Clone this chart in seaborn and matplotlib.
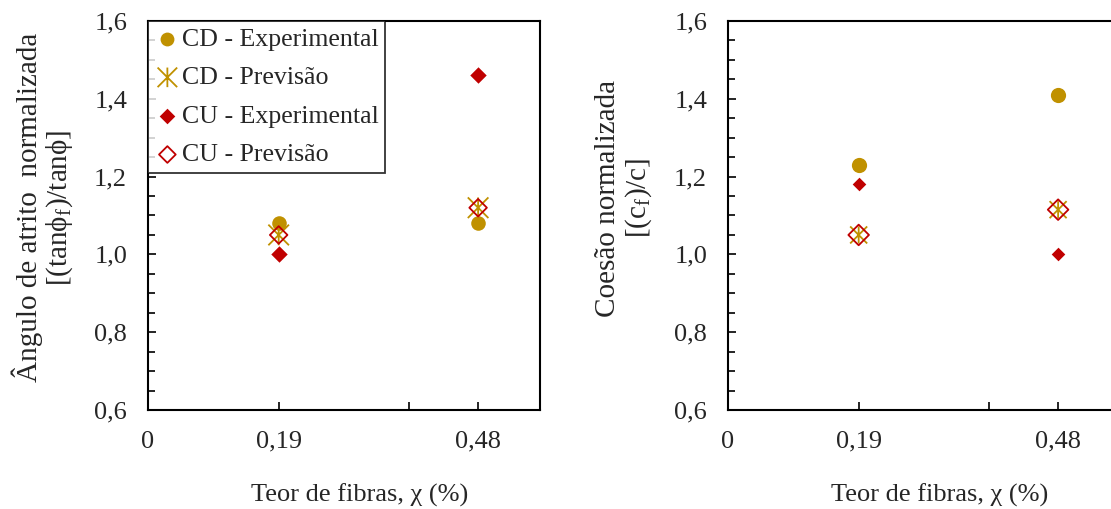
import numpy as np
import pandas as pd
import matplotlib
matplotlib.use("Agg")
import matplotlib.pyplot as plt
import seaborn as sns
from matplotlib.path import Path
from matplotlib.ticker import MultipleLocator

# fibre content (%) and normalised results
fibre = [0.19, 0.48]

phi_cd_exp = [1.08, 1.08]
phi_cd_prev = [1.05, 1.12]
phi_cu_exp = [1.00, 1.46]
phi_cu_prev = [1.05, 1.12]

coh_cd_exp = [1.23, 1.41]
coh_cd_prev = [1.05, 1.115]
coh_cu_exp = [1.18, 1.00]
coh_cu_prev = [1.05, 1.115]

x_ticks = [0, 0.19, 0.38, 0.48]
x_tick_labels = ["0", "0,19", "", "0,48"]
y_ticks = [0.6, 0.8, 1.0, 1.2, 1.4, 1.6]
y_tick_labels = ["0,6", "0,8", "1,0", "1,2", "1,4", "1,6"]
series_names = ["CD - Experimental", "CD - Previsão", "CU - Experimental", "CU - Previsão"]

gold = "#C09100"
red = "#C00000"

sns.set_style("white")
plt.rcParams["font.family"] = ["Liberation Serif", "DejaVu Serif"]
plt.rcParams["mathtext.fontset"] = "custom"
plt.rcParams["mathtext.rm"] = "Liberation Serif"
FS = 19
FS_Y = 21

# Excel-style star: X plus a vertical bar
star = Path([(0, -1), (0, 1), (-1, -1), (1, 1), (-1, 1), (1, -1)],
            [Path.MOVETO, Path.LINETO, Path.MOVETO, Path.LINETO, Path.MOVETO, Path.LINETO])

fig = plt.figure(figsize=(11.11, 5.09), dpi=100)
ax1 = fig.add_axes([148 / 1111, 1 - 410 / 509, 392 / 1111, 389 / 509])
ax2 = fig.add_axes([728 / 1111, 1 - 410 / 509, 392 / 1111, 389 / 509])


def draw(ax, cd_exp, cd_prev, cu_exp, cu_prev, sizes):
    df = pd.DataFrame({"x": fibre, "cd_exp": cd_exp, "cd_prev": cd_prev,
                       "cu_exp": cu_exp, "cu_prev": cu_prev})
    sns.scatterplot(data=df, x="x", y="cd_exp", ax=ax, marker="o", s=sizes[0],
                    color=gold, edgecolor=gold, linewidth=0, label=series_names[0], zorder=3)
    sns.scatterplot(data=df, x="x", y="cd_prev", ax=ax, marker=star, s=sizes[1],
                    color=gold, facecolor="none", edgecolor=gold, linewidth=1.3,
                    label=series_names[1], zorder=4)
    sns.scatterplot(data=df, x="x", y="cu_exp", ax=ax, marker="D", s=sizes[2],
                    color=red, edgecolor=red, linewidth=0, label=series_names[2], zorder=3)
    sns.scatterplot(data=df, x="x", y="cu_prev", ax=ax, marker="D", s=sizes[3],
                    color=red, facecolor="none", edgecolor=red, linewidth=1.3,
                    label=series_names[3], zorder=5)

    ax.set_xlim(0, 0.57)
    ax.set_ylim(0.6, 1.6)
    ax.set_xticks(x_ticks)
    ax.set_xticklabels(x_tick_labels, fontsize=FS)
    ax.set_yticks(y_ticks)
    ax.set_yticklabels(y_tick_labels, fontsize=FS)
    ax.yaxis.set_minor_locator(MultipleLocator(0.05))
    ax.tick_params(axis="both", which="major", direction="in", length=6, width=1.2,
                   color="black", pad=15, left=True, bottom=True)
    ax.tick_params(axis="y", which="minor", direction="in", length=5, width=1.2,
                   color="black", left=True)
    for sp in ax.spines.values():
        sp.set_color("black")
        sp.set_linewidth(1.5)
    ax.set_xlabel("Teor de fibras, χ (%)", fontsize=FS)
    ax.xaxis.set_label_coords(0.54, -0.19)


draw(ax1, phi_cd_exp, phi_cd_prev, phi_cu_exp, phi_cu_prev, [110, 220, 70, 80])
draw(ax2, coh_cd_exp, coh_cd_prev, coh_cu_exp, coh_cu_prev, [120, 150, 48, 110])

ax1.set_ylabel("Ângulo de atrito  normalizada\n[(tanϕ$_\\mathregular{f}$)/tanϕ]",
               fontsize=FS_Y, linespacing=1.1)
ax1.yaxis.set_label_coords(-0.185, 0.52)
ax2.set_ylabel("Coesão normalizada\n[(c$_\\mathregular{f}$)/c]",
               fontsize=FS_Y, linespacing=1.1)
ax2.yaxis.set_label_coords(-0.19, 0.545)

leg = ax1.legend(loc="upper left", bbox_to_anchor=(0, 1), borderaxespad=0,
                 fontsize=18.6, frameon=True, fancybox=False, edgecolor="black",
                 handletextpad=0.05, handlelength=1.0, borderpad=0.25,
                 labelspacing=0.6, markerscale=0.95)
leg.get_frame().set_linewidth(1.3)
ax2.get_legend().remove()

fig.savefig("out.png", dpi=100)
